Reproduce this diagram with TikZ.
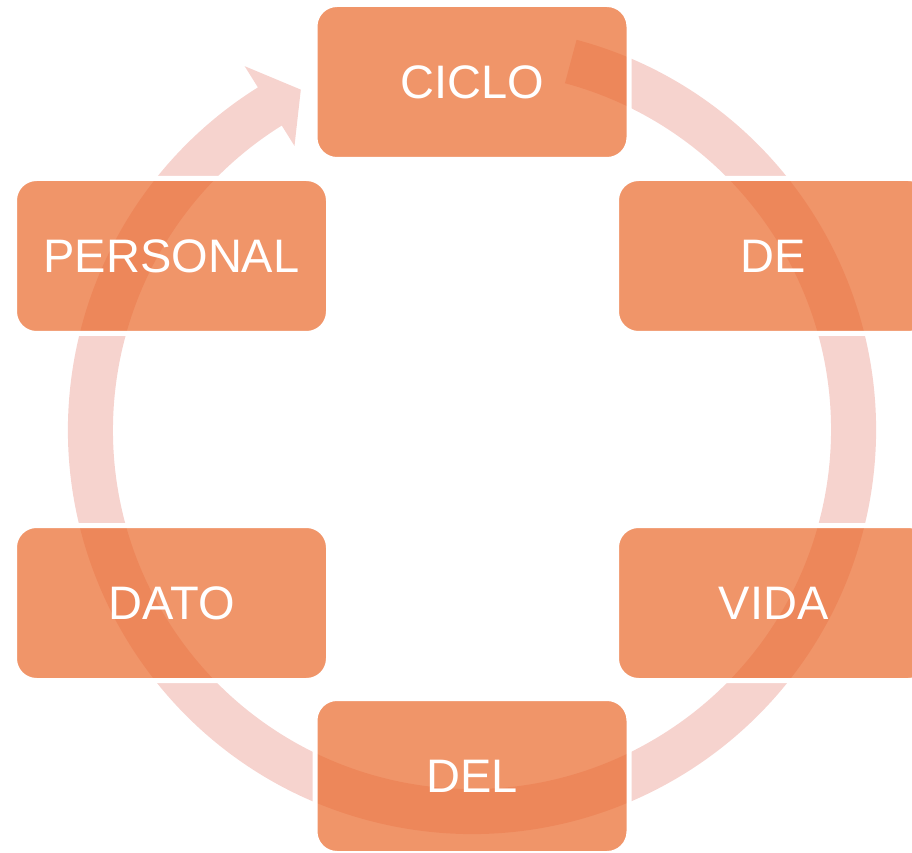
\documentclass[tikz,border=0pt]{standalone}
\usepackage{fontspec}
\setmainfont{Liberation Sans}
\definecolor{ringpink}{RGB}{246,211,206}
\definecolor{boxorange}{RGB}{234,104,42}
\tikzset{
  cyclebox/.style={rectangle, rounded corners=22pt, minimum width=314pt, minimum height=155pt,
    draw=white, line width=5pt, fill=boxorange, fill opacity=0.7, text opacity=1,
    text=white, font=\fontsize{47}{47}\selectfont, inner sep=0pt},
  ringarrow/.style={fill=ringpink, draw=none}
}
\begin{document}
\begin{tikzpicture}[x=1pt,y=1pt]
\useasboundingbox (0,0) rectangle (912,852);
\clip (0,0) rectangle (912,852);
\begin{scope}[shift={(472,422)}]
\fill[ringarrow] (75:404) arc[start angle=75, end angle=-238, radius=404]
  -- (122:429) -- (116.7:381) -- (122:335) -- (122:359)
  arc[start angle=-238, end angle=75, radius=359] -- cycle;
\end{scope}
\node[cyclebox] (ciclo) at (472,770) {CICLO};
\node[cyclebox] (de) at (773.5,596) {DE};
\node[cyclebox] (vida) at (773.5,249) {VIDA};
\node[cyclebox] (del) at (472,76) {DEL};
\node[cyclebox] (dato) at (171.5,249) {DATO};
\node[cyclebox] (personal) at (171.5,596) {PERSONAL};
\end{tikzpicture}
\end{document}
